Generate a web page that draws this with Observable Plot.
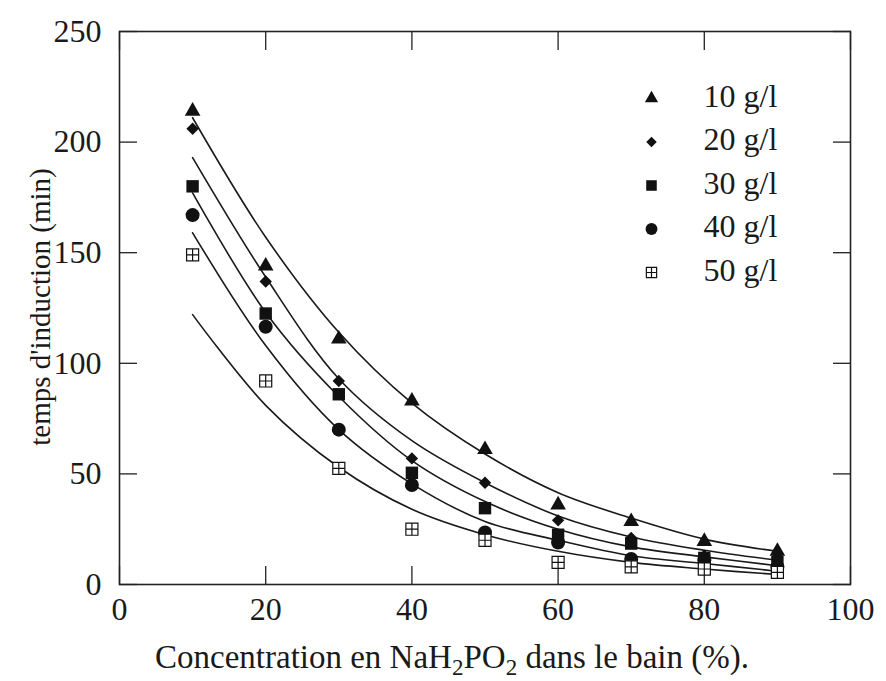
<!DOCTYPE html>
<html>
<head>
<meta charset="utf-8">
<script src="https://cdn.jsdelivr.net/npm/d3@7"></script>
<script src="https://cdn.jsdelivr.net/npm/@observablehq/plot@0.6"></script>
<style>
  html, body { margin: 0; padding: 0; background: #fff; }
  #chart { width: 886px; height: 681px; }
</style>
</head>
<body>
<div id="chart"></div>
<script>
// ---- data ----
const seriesNames = ["10 g/l", "20 g/l", "30 g/l", "40 g/l", "50 g/l"];
const concentrations = [10, 20, 30, 40, 50, 60, 70, 80, 90];

// measured induction times (min)
const pts10 = [214, 144, 111, 83, 61, 36, 28.5, 19.5, 15];
const pts20 = [206, 137, 92, 57, 46, 29, 21, 13, 12.5];
const pts30 = [180, 122.5, 86, 50.5, 34.5, 22.5, 18.5, 12, 10];
const pts40 = [167, 116.5, 70, 45, 23.5, 19, 11.5, 11, 8];
const pts50 = [149, 92, 52.5, 25, 20, 10, 8, 7, 5.5];

// fitted curves, read at the same concentrations
const fit10 = [211, 157, 114, 82, 59, 41.5, 30, 20.5, 15];
const fit20 = [193, 139, 93, 65, 46, 31, 21.5, 15.5, 11];
const fit30 = [177, 123, 85, 56, 37.5, 25, 17, 12.5, 8.5];
const fit40 = [159, 108, 70, 45.5, 28.5, 20, 13, 9.5, 6];
const fit50 = [122, 81, 53, 34, 22.5, 15, 10, 7, 4.5];

const xTicks = [0, 20, 40, 60, 80, 100];
const yTicks = [0, 50, 100, 150, 200, 250];

const xTitle = ["Concentration en NaH", "2", "PO", "2", " dans le bain (%)."];
const yTitle = "temps d'induction (min)";

// ---- build tables ----
const ptsAll = [pts10, pts20, pts30, pts40, pts50];
const fitAll = [fit10, fit20, fit30, fit40, fit50];
const points = [], curves = [];
seriesNames.forEach((s, i) => {
  concentrations.forEach((c, j) => {
    points.push({series: s, x: c, y: ptsAll[i][j]});
    curves.push({series: s, x: c, y: fitAll[i][j]});
  });
});

const boxPlus = {
  draw(ctx, size) {
    const s = Math.sqrt(size) / 2;
    ctx.moveTo(-s, -s); ctx.lineTo(s, -s); ctx.lineTo(s, s); ctx.lineTo(-s, s); ctx.closePath();
    ctx.moveTo(0, -s); ctx.lineTo(0, s);
    ctx.moveTo(-s, 0); ctx.lineTo(s, 0);
  }
};
const squareDiamond = {
  draw(ctx, size) {
    const s = Math.sqrt(size) / 2;
    ctx.moveTo(0, -s); ctx.lineTo(s, 0); ctx.lineTo(0, s); ctx.lineTo(-s, 0); ctx.closePath();
  }
};
const styles = {
  "10 g/l": {symbol: "triangle", r: 5.8, fill: "#111", stroke: "none"},
  "20 g/l": {symbol: squareDiamond, r: 7.0, fill: "#111", stroke: "none"},
  "30 g/l": {symbol: "square", r: 7.0, fill: "#111", stroke: "none"},
  "40 g/l": {symbol: "circle", r: 7.0, fill: "#111", stroke: "none"},
  "50 g/l": {symbol: boxPlus, r: 6.8, fill: "#fff", stroke: "#111"}
};

const font = "'Liberation Serif', 'Times New Roman', serif";
const marks = [];

// inward ticks on all four sides
marks.push(Plot.axisX(xTicks, {anchor: "bottom", tickSize: -18, fill: "none", stroke: "#222", strokeWidth: 1.3, label: null}));
marks.push(Plot.axisX(xTicks, {anchor: "top", tickSize: -18, fill: "none", stroke: "#222", strokeWidth: 1.3, label: null}));
marks.push(Plot.axisY(yTicks, {anchor: "left", tickSize: -18, fill: "none", stroke: "#222", strokeWidth: 1.3, label: null}));
marks.push(Plot.axisY(yTicks, {anchor: "right", tickSize: -18, fill: "none", stroke: "#222", strokeWidth: 1.3, label: null}));
// tick labels
marks.push(Plot.axisX(xTicks, {anchor: "bottom", tickSize: 0, tickPadding: 13, fontSize: 32, fontFamily: font, fill: "#1a1a1a", label: null}));
marks.push(Plot.axisY(yTicks, {anchor: "left", tickSize: 0, tickPadding: 18, fontSize: 32, fontFamily: font, fill: "#1a1a1a", label: null}));

marks.push(Plot.frame({stroke: "#222", strokeWidth: 1.6}));

// fitted curves
marks.push(Plot.line(curves, {x: "x", y: "y", z: "series", curve: "catmull-rom", stroke: "#1a1a1a", strokeWidth: 1.6}));

// data points
seriesNames.forEach(s => {
  const st = styles[s];
  marks.push(Plot.dot(points.filter(d => d.series === s), {x: "x", y: "y", symbol: st.symbol, r: st.r, fill: st.fill, stroke: st.stroke, strokeWidth: 1.2}));
});

// legend
seriesNames.forEach((s, i) => {
  const st = styles[s];
  const dy = 67 + 43.5 * i;
  marks.push(Plot.dot([s], {frameAnchor: "top-left", dx: 532, dy, symbol: st.symbol, r: st.r * 0.85, fill: st.fill, stroke: st.stroke, strokeWidth: 1.2}));
  marks.push(Plot.text([s], {frameAnchor: "top-left", dx: 584, dy: dy - 2, text: d => d, textAnchor: "start", lineAnchor: "middle", fontSize: 32, fontFamily: font, fill: "#1a1a1a"}));
});

const chart = Plot.plot({
  width: 886,
  height: 681,
  marginLeft: 119,
  marginRight: 36,
  marginTop: 31,
  marginBottom: 97,
  x: {domain: [0, 100], axis: null},
  y: {domain: [0, 250], axis: null},
  style: {background: "#fff", fontFamily: font},
  marks
});

// axis titles (with real subscripts)
const svg = d3.select(chart);
const xt = svg.append("text")
  .attr("x", 452).attr("y", 668)
  .attr("text-anchor", "middle")
  .attr("font-family", font).attr("font-size", 33).attr("fill", "#1a1a1a");
xTitle.forEach((part, i) => {
  const ts = xt.append("tspan").text(part);
  if (i === 1 || i === 3) ts.attr("font-size", 23).attr("baseline-shift", "-7");
});
svg.append("text")
  .attr("transform", "translate(40,307) rotate(-90)")
  .attr("text-anchor", "middle").attr("dy", "0.35em")
  .attr("font-family", font).attr("font-size", 29).attr("fill", "#1a1a1a")
  .text(yTitle);

document.getElementById("chart").appendChild(chart);
</script>
</body>
</html>
